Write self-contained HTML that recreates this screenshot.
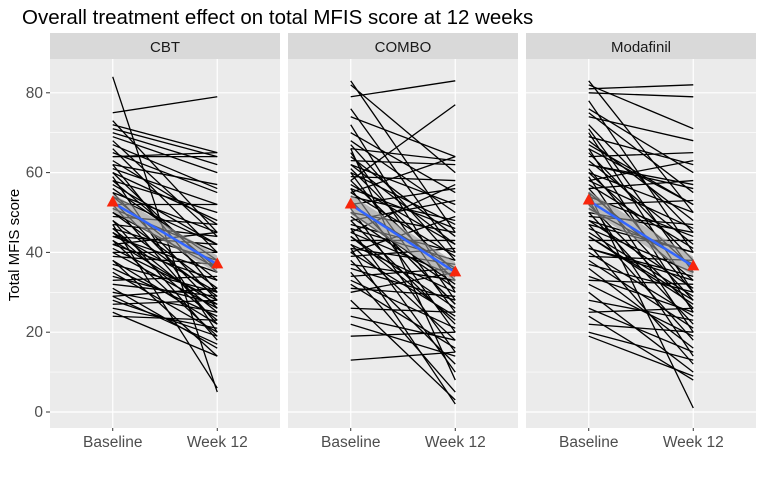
<!DOCTYPE html>
<html><head><meta charset="utf-8">
<style>
body{margin:0;background:#fff;font-family:"Liberation Sans",Arial,sans-serif;}
svg text{font-family:"Liberation Sans",Arial,sans-serif;}
</style></head>
<body>
<svg id="chart" width="763" height="476" xmlns="http://www.w3.org/2000/svg">
<text x="22" y="24" font-size="20.5" fill="#000">Overall treatment effect on total MFIS score at 12 weeks</text>
<text transform="translate(19,245) rotate(-90)" text-anchor="middle" font-size="15" fill="#000">Total MFIS score</text>
<g id="plot"></g>
</svg>
<script>
const panels = ["CBT","COMBO","Modafinil"];
const timepoints = ["Baseline","Week 12"];
const yTicks = [0,20,40,60,80];
const cbtBase = [84,75,73,72,71,70,69,68,67,66,65,64,64,63,62,61,60,60,59,58,57,56,55,55,54,53,52,52,51,50,50,49,48,48,47,46,46,45,45,44,44,43,43,42,42,41,40,40,39,38,38,37,36,35,34,33,32,31,30,29,29,28,27,26,25,24,62,58,54,47];
const cbtWeek = [5,79,45,65,64,62,60,44,56,40,55,65,64,47,30,52,48,35,20,50,42,38,28,45,33,26,52,22,40,36,31,47,29,18,44,25,38,30,23,42,35,27,19,45,33,28,26,40,37,22,14,30,24,20,27,34,29,16,25,31,17,19,28,21,14,23,57,36,42,6];
const comboBase = [83,82,79,76,74,72,70,68,67,66,65,64,63,62,61,60,60,59,58,57,56,55,55,54,53,52,52,51,50,49,48,48,47,46,45,45,44,43,42,42,41,40,40,39,38,37,36,35,34,33,32,31,30,28,26,24,22,19,13,58,62,66,50,46,44,56,53,41];
const comboWeek = [45,60,83,40,64,30,55,50,38,63,28,44,62,52,35,47,25,58,33,42,20,64,39,48,27,56,36,15,45,31,22,53,40,10,34,57,26,43,18,30,37,49,24,41,12,33,28,5,36,21,16,29,35,3,25,18,14,20,15,77,42,8,32,38,23,46,27,2];
const modBase = [83,82,81,80,78,76,75,74,72,71,70,69,68,67,66,65,64,63,62,61,60,60,59,58,57,56,56,55,54,53,52,52,51,50,49,48,48,47,46,45,44,43,42,41,40,39,38,37,36,34,33,32,30,28,26,25,24,22,20,19,58,62,55,47,44,50,41,66];
const modWeek = [50,71,82,79,40,60,55,68,45,35,30,62,48,52,25,38,65,42,57,30,50,36,20,46,41,28,58,33,44,14,26,53,37,22,47,31,40,18,35,29,27,43,12,34,24,38,21,30,16,25,32,19,10,23,15,26,8,20,13,9,63,56,1,40,28,45,33,52];
const meanBase = [52.5,52,53];
const meanWeek = [37,35,36.5];
const ciHalf = [2.2,2.5,2.4];
const seriesBase = [cbtBase, comboBase, modBase];
const seriesWeek = [cbtWeek, comboWeek, modWeek];

const NS = "http://www.w3.org/2000/svg";
const g = document.getElementById("plot");
const panelX = [50,288,526], panelW = 230, plotTop = 59, plotBottom = 428, stripTop = 33;
const yScale = v => 412 - v * 3.99;
const xScale = (p, i) => panelX[p] + panelW * (i + 0.6) / 2.2;
function el(tag, attrs, parent){const e=document.createElementNS(NS,tag);for(const k in attrs)e.setAttribute(k,attrs[k]);(parent||g).appendChild(e);return e;}

panels.forEach((name, p) => {
  const pg = el("g", {});
  
  
  const bg = el("rect", {x:panelX[p], y:plotTop, width:panelW, height:plotBottom-plotTop, fill:"#ebebeb"}, pg);
  
  
  const strip = el("rect", {x:panelX[p], y:stripTop, width:panelW, height:plotTop-stripTop, fill:"#d9d9d9"}, pg);
  
  
  const st = el("text", {x:panelX[p]+panelW/2, y:52, "text-anchor":"middle", "font-size":"15", fill:"#1a1a1a"}, pg);
  st.textContent = name;
  
  
  for (let v = 10; v <= 80; v += 20) {
    const mg = el("line", {x1:panelX[p], x2:panelX[p]+panelW, y1:yScale(v), y2:yScale(v), stroke:"#fff", "stroke-width":"0.6"}, pg);
    
    
  }
  yTicks.forEach(v => {
    const gl = el("line", {x1:panelX[p], x2:panelX[p]+panelW, y1:yScale(v), y2:yScale(v), stroke:"#fff", "stroke-width":"1.2"}, pg);
    
    
  });
  timepoints.forEach((t, i) => {
    const vl = el("line", {x1:xScale(p,i), x2:xScale(p,i), y1:plotTop, y2:plotBottom, stroke:"#fff", "stroke-width":"1.2"}, pg);
    
    
    const tk = el("line", {x1:xScale(p,i), x2:xScale(p,i), y1:plotBottom, y2:plotBottom+3, stroke:"#333", "stroke-width":"1"}, pg);
    
    
    const tl = el("text", {x:xScale(p,i), y:447, "text-anchor":"middle", "font-size":"15.5", fill:"#4d4d4d"}, pg);
    tl.textContent = t;
    
    
  });
  const b = seriesBase[p], w = seriesWeek[p];
  for (let k = 0; k < b.length; k++) {
    const ln = el("line", {x1:xScale(p,0), y1:yScale(b[k]), x2:xScale(p,1), y2:yScale(w[k]), stroke:"#000", "stroke-width":"1.3"}, pg);
    
    
  }
  const x0 = xScale(p,0), x1 = xScale(p,1), h = ciHalf[p]*3.99;
  const rib = el("polygon", {points:`${x0},${yScale(meanBase[p])-h} ${x1},${yScale(meanWeek[p])-h} ${x1},${yScale(meanWeek[p])+h} ${x0},${yScale(meanBase[p])+h}`, fill:"#999", "fill-opacity":"0.6"}, pg);
  
  
  const ml = el("line", {x1:x0, y1:yScale(meanBase[p]), x2:x1, y2:yScale(meanWeek[p]), stroke:"#3366ff", "stroke-width":"2.5"}, pg);
  
  
  [[x0, meanBase[p]], [x1, meanWeek[p]]].forEach(([x, v]) => {
    const y = yScale(v);
    const tri = el("polygon", {points:`${x},${y-7} ${x-6},${y+4} ${x+6},${y+4}`, fill:"#f8250b"}, pg);
    
    
  });
});
yTicks.forEach(v => {
  const tk = el("line", {x1:46, x2:50, y1:yScale(v), y2:yScale(v), stroke:"#333", "stroke-width":"1"});
  
  
  const tl = el("text", {x:43, y:yScale(v)+5, "text-anchor":"end", "font-size":"15.5", fill:"#4d4d4d"});
  tl.textContent = v;
  
  
});
</script>
</body></html>
